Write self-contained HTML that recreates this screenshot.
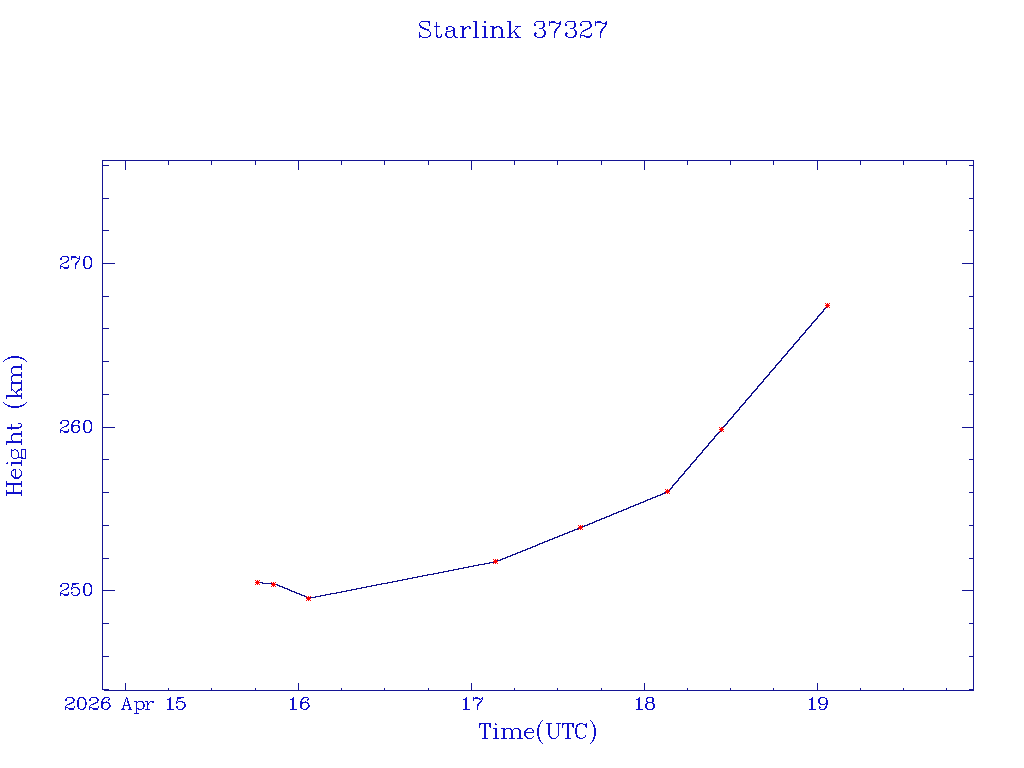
<!DOCTYPE html>
<html><head><meta charset="utf-8"><style>
html,body{margin:0;padding:0;background:#fff;width:1024px;height:768px;overflow:hidden}
svg{display:block}
</style></head><body>
<svg width="1024" height="768" viewBox="0 0 1024 768">
<rect width="1024" height="768" fill="#fff"/>
<path d="M102.5 689.5 V160.5 H973.5 V690.5 H103.5 M125.5 160.5 V169.5 M125.5 690.5 V682.5 M168.5 160.5 V164.5 M168.5 690.5 V687.5 M211.5 160.5 V164.5 M211.5 690.5 V687.5 M255.5 160.5 V164.5 M255.5 690.5 V687.5 M298.5 160.5 V169.5 M298.5 690.5 V682.5 M341.5 160.5 V164.5 M341.5 690.5 V687.5 M384.5 160.5 V164.5 M384.5 690.5 V687.5 M428.5 160.5 V164.5 M428.5 690.5 V687.5 M471.5 160.5 V169.5 M471.5 690.5 V682.5 M514.5 160.5 V164.5 M514.5 690.5 V687.5 M557.5 160.5 V164.5 M557.5 690.5 V687.5 M601.5 160.5 V164.5 M601.5 690.5 V687.5 M644.5 160.5 V169.5 M644.5 690.5 V682.5 M687.5 160.5 V164.5 M687.5 690.5 V687.5 M730.5 160.5 V164.5 M730.5 690.5 V687.5 M773.5 160.5 V164.5 M773.5 690.5 V687.5 M817.5 160.5 V169.5 M817.5 690.5 V682.5 M860.5 160.5 V164.5 M860.5 690.5 V687.5 M903.5 160.5 V164.5 M903.5 690.5 V687.5 M946.5 160.5 V164.5 M946.5 690.5 V687.5 M102.5 689.5 H108.5 M973.5 689.5 H968.5 M102.5 656.5 H108.5 M973.5 656.5 H968.5 M102.5 623.5 H108.5 M973.5 623.5 H968.5 M102.5 590.5 H114.5 M973.5 590.5 H961.5 M102.5 558.5 H108.5 M973.5 558.5 H968.5 M102.5 525.5 H108.5 M973.5 525.5 H968.5 M102.5 492.5 H108.5 M973.5 492.5 H968.5 M102.5 459.5 H108.5 M973.5 459.5 H968.5 M102.5 427.5 H114.5 M973.5 427.5 H961.5 M102.5 394.5 H108.5 M973.5 394.5 H968.5 M102.5 361.5 H108.5 M973.5 361.5 H968.5 M102.5 328.5 H108.5 M973.5 328.5 H968.5 M102.5 296.5 H108.5 M973.5 296.5 H968.5 M102.5 263.5 H114.5 M973.5 263.5 H961.5 M102.5 230.5 H108.5 M973.5 230.5 H968.5 M102.5 198.5 H108.5 M973.5 198.5 H968.5 M102.5 165.5 H108.5 M973.5 165.5 H968.5" stroke="#141494" stroke-width="1" fill="none" shape-rendering="crispEdges"/>
<path d="M429.51 25.95 L429.51 21.33 M429.51 22.87 L427.97 21.71 L425.66 21.33 L422.58 21.33 L420.65 22.10 L419.50 23.64 L419.50 25.18 L420.27 26.72 L421.81 27.88 L426.43 29.80 L428.74 30.95 L430.28 32.49 L430.28 35.19 L429.12 36.73 L426.43 37.50 L423.35 37.50 L421.04 36.73 L419.50 35.19 M420.27 25.95 L421.81 27.11 L426.43 29.03 L428.74 30.18 M419.50 32.88 L419.50 37.50 M436.04 22.48 L436.04 34.42 L436.81 36.73 L438.35 37.50 L439.89 37.50 L441.04 36.34 L441.43 34.42 M436.81 22.48 L436.81 34.42 L437.58 36.73 L438.35 37.50 M434.50 26.72 L439.50 26.72 M447.04 28.26 L447.04 29.03 L446.27 29.03 L446.27 28.26 L447.04 27.49 L448.58 26.72 L451.66 26.72 L453.20 27.49 L453.97 28.26 L454.74 29.80 L454.74 35.19 L455.51 36.73 L456.28 37.50 M453.97 28.26 L453.97 35.19 L454.74 36.73 L456.28 37.50 L457.05 37.50 M453.97 29.80 L453.20 30.57 L448.58 31.34 L446.27 32.11 L445.50 33.65 L445.50 35.19 L446.27 36.73 L448.58 37.50 L450.89 37.50 L452.43 36.73 L453.97 35.19 M448.58 31.34 L447.04 32.11 L446.27 33.65 L446.27 35.19 L447.04 36.73 L448.58 37.50 M462.81 26.72 L462.81 37.50 M463.58 26.72 L463.58 37.50 M463.58 31.34 L464.35 29.03 L465.89 27.49 L467.43 26.72 L469.74 26.72 L470.51 27.49 L470.51 28.26 L469.74 29.03 L468.97 28.26 L469.74 27.49 M460.50 26.72 L463.58 26.72 M460.50 37.50 L465.89 37.50 M475.81 21.33 L475.81 37.50 M476.58 21.33 L476.58 37.50 M473.50 21.33 L476.58 21.33 M473.50 37.50 L478.89 37.50 M484.81 21.33 L484.04 22.10 L484.81 22.87 L485.58 22.10 L484.81 21.33 M484.81 26.72 L484.81 37.50 M485.58 26.72 L485.58 37.50 M482.50 26.72 L485.58 26.72 M482.50 37.50 L487.89 37.50 M492.81 26.72 L492.81 37.50 M493.58 26.72 L493.58 37.50 M493.58 29.03 L495.12 27.49 L497.43 26.72 L498.97 26.72 L501.28 27.49 L502.05 29.03 L502.05 37.50 M498.97 26.72 L500.51 27.49 L501.28 29.03 L501.28 37.50 M490.50 26.72 L493.58 26.72 M490.50 37.50 L495.89 37.50 M498.97 37.50 L504.36 37.50 M509.81 21.33 L509.81 37.50 M510.58 21.33 L510.58 37.50 M518.28 26.72 L510.58 34.42 M514.43 31.34 L519.05 37.50 M513.66 31.34 L518.28 37.50 M507.50 21.33 L510.58 21.33 M515.97 26.72 L520.59 26.72 M507.50 37.50 L512.89 37.50 M515.97 37.50 L520.59 37.50 M535.27 24.41 L536.04 25.18 L535.27 25.95 L534.50 25.18 L534.50 24.41 L535.27 22.87 L536.04 22.10 L538.35 21.33 L541.43 21.33 L543.74 22.10 L544.51 23.64 L544.51 25.95 L543.74 27.49 L541.43 28.26 L539.12 28.26 M541.43 21.33 L542.97 22.10 L543.74 23.64 L543.74 25.95 L542.97 27.49 L541.43 28.26 M541.43 28.26 L542.97 29.03 L544.51 30.57 L545.28 32.11 L545.28 34.42 L544.51 35.96 L543.74 36.73 L541.43 37.50 L538.35 37.50 L536.04 36.73 L535.27 35.96 L534.50 34.42 L534.50 33.65 L535.27 32.88 L536.04 33.65 L535.27 34.42 M543.74 29.80 L544.51 32.11 L544.51 34.42 L543.74 35.96 L542.97 36.73 L541.43 37.50 M549.50 21.33 L549.50 25.95 M549.50 24.41 L550.27 22.87 L551.81 21.33 L553.35 21.33 L557.20 23.64 L558.74 23.64 L559.51 22.87 L560.28 21.33 M550.27 22.87 L551.81 22.10 L553.35 22.10 L557.20 23.64 M560.28 21.33 L560.28 23.64 L559.51 25.95 L556.43 29.80 L555.66 31.34 L554.89 33.65 L554.89 37.50 M559.51 25.95 L555.66 29.80 L554.89 31.34 L554.12 33.65 L554.12 37.50 M566.27 24.41 L567.04 25.18 L566.27 25.95 L565.50 25.18 L565.50 24.41 L566.27 22.87 L567.04 22.10 L569.35 21.33 L572.43 21.33 L574.74 22.10 L575.51 23.64 L575.51 25.95 L574.74 27.49 L572.43 28.26 L570.12 28.26 M572.43 21.33 L573.97 22.10 L574.74 23.64 L574.74 25.95 L573.97 27.49 L572.43 28.26 M572.43 28.26 L573.97 29.03 L575.51 30.57 L576.28 32.11 L576.28 34.42 L575.51 35.96 L574.74 36.73 L572.43 37.50 L569.35 37.50 L567.04 36.73 L566.27 35.96 L565.50 34.42 L565.50 33.65 L566.27 32.88 L567.04 33.65 L566.27 34.42 M574.74 29.80 L575.51 32.11 L575.51 34.42 L574.74 35.96 L573.97 36.73 L572.43 37.50 M581.27 24.41 L582.04 25.18 L581.27 25.95 L580.50 25.18 L580.50 24.41 L581.27 22.87 L582.04 22.10 L584.35 21.33 L587.43 21.33 L589.74 22.10 L590.51 22.87 L591.28 24.41 L591.28 25.95 L590.51 27.49 L588.20 29.03 L584.35 30.57 L582.81 31.34 L581.27 32.88 L580.50 35.19 L580.50 37.50 M587.43 21.33 L588.97 22.10 L589.74 22.87 L590.51 24.41 L590.51 25.95 L589.74 27.49 L587.43 29.03 L584.35 30.57 M580.50 35.96 L581.27 35.19 L582.81 35.19 L586.66 36.73 L588.97 36.73 L590.51 35.96 L591.28 35.19 M582.81 35.19 L586.66 37.50 L589.74 37.50 L590.51 36.73 L591.28 35.19 L591.28 33.65 M595.50 21.33 L595.50 25.95 M595.50 24.41 L596.27 22.87 L597.81 21.33 L599.35 21.33 L603.20 23.64 L604.74 23.64 L605.51 22.87 L606.28 21.33 M596.27 22.87 L597.81 22.10 L599.35 22.10 L603.20 23.64 M606.28 21.33 L606.28 23.64 L605.51 25.95 L602.43 29.80 L601.66 31.34 L600.89 33.65 L600.89 37.50 M605.51 25.95 L601.66 29.80 L600.89 31.34 L600.12 33.65 L600.12 37.50 M484.50 723.51 L484.50 738.50 M485.21 723.51 L485.21 738.50 M480.21 723.51 L479.50 727.79 M479.50 723.51 L479.50 727.79 M479.50 723.51 L490.21 723.51 M490.21 723.51 L490.21 727.79 M489.50 723.51 L490.21 727.79 M482.36 738.50 L487.35 738.50 M495.64 723.51 L494.93 724.22 L495.64 724.93 L496.36 724.22 L495.64 723.51 M495.64 728.50 L495.64 738.50 M496.36 728.50 L496.36 738.50 M493.50 728.50 L496.36 728.50 M493.50 738.50 L498.50 738.50 M503.64 728.50 L503.64 738.50 M504.36 728.50 L504.36 738.50 M504.36 730.65 L505.78 729.22 L507.93 728.50 L509.35 728.50 L511.50 729.22 L512.21 730.65 L512.21 738.50 M509.35 728.50 L510.78 729.22 L511.50 730.65 L511.50 738.50 M512.21 730.65 L513.64 729.22 L515.78 728.50 L517.21 728.50 L519.35 729.22 L520.06 730.65 L520.06 738.50 M517.21 728.50 L518.64 729.22 L519.35 730.65 L519.35 738.50 M501.50 728.50 L504.36 728.50 M501.50 738.50 L506.50 738.50 M509.35 738.50 L514.35 738.50 M517.21 738.50 L522.21 738.50 M525.21 732.79 L533.78 732.79 L533.78 731.36 L533.07 729.93 L532.35 729.22 L530.93 728.50 L528.78 728.50 L526.64 729.22 L525.21 730.65 L524.50 732.79 L524.50 734.22 L525.21 736.36 L526.64 737.79 L528.78 738.50 L530.21 738.50 L532.35 737.79 L533.78 736.36 M533.07 732.79 L533.07 730.65 L532.35 729.22 M528.78 728.50 L527.36 729.22 L525.93 730.65 L525.21 732.79 L525.21 734.22 L525.93 736.36 L527.36 737.79 L528.78 738.50 M542.50 720.65 L541.07 722.08 L539.64 724.22 L538.21 727.08 L537.50 730.65 L537.50 733.50 L538.21 737.07 L539.64 739.93 L541.07 742.07 L542.50 743.50 M541.07 722.08 L539.64 724.93 L538.93 727.08 L538.21 730.65 L538.21 733.50 L538.93 737.07 L539.64 739.21 L541.07 742.07 M548.64 723.51 L548.64 734.22 L549.36 736.36 L550.78 737.79 L552.93 738.50 L554.35 738.50 L556.50 737.79 L557.92 736.36 L558.64 734.22 L558.64 723.51 M549.36 723.51 L549.36 734.22 L550.07 736.36 L551.50 737.79 L552.93 738.50 M546.50 723.51 L551.50 723.51 M556.50 723.51 L560.78 723.51 M567.50 723.51 L567.50 738.50 M568.21 723.51 L568.21 738.50 M563.21 723.51 L562.50 727.79 M562.50 723.51 L562.50 727.79 M562.50 723.51 L573.21 723.51 M573.21 723.51 L573.21 727.79 M572.50 723.51 L573.21 727.79 M565.36 738.50 L570.35 738.50 M585.50 725.65 L586.21 727.79 L586.21 723.51 L585.50 725.65 L584.07 724.22 L581.93 723.51 L580.50 723.51 L578.36 724.22 L576.93 725.65 L576.21 727.08 L575.50 729.22 L575.50 732.79 L576.21 734.93 L576.93 736.36 L578.36 737.79 L580.50 738.50 L581.93 738.50 L584.07 737.79 L585.50 736.36 L586.21 734.93 M580.50 723.51 L579.07 724.22 L577.64 725.65 L576.93 727.08 L576.21 729.22 L576.21 732.79 L576.93 734.93 L577.64 736.36 L579.07 737.79 L580.50 738.50 M590.50 720.65 L591.93 722.08 L593.36 724.22 L594.78 727.08 L595.50 730.65 L595.50 733.50 L594.78 737.07 L593.36 739.93 L591.93 742.07 L590.50 743.50 M591.93 722.08 L593.36 724.93 L594.07 727.08 L594.78 730.65 L594.78 733.50 L594.07 737.07 L593.36 739.21 L591.93 742.07 M6.51 493.36 L21.50 493.36 M6.51 492.64 L21.50 492.64 M6.51 484.08 L21.50 484.08 M6.51 483.36 L21.50 483.36 M6.51 495.50 L6.51 490.50 M6.51 486.22 L6.51 481.22 M13.65 492.64 L13.65 484.08 M21.50 495.50 L21.50 490.50 M21.50 486.22 L21.50 481.22 M15.79 477.79 L15.79 469.22 L14.36 469.22 L12.93 469.93 L12.22 470.65 L11.50 472.07 L11.50 474.22 L12.22 476.36 L13.65 477.79 L15.79 478.50 L17.22 478.50 L19.36 477.79 L20.79 476.36 L21.50 474.22 L21.50 472.79 L20.79 470.65 L19.36 469.22 M15.79 469.93 L13.65 469.93 L12.22 470.65 M11.50 474.22 L12.22 475.64 L13.65 477.07 L15.79 477.79 L17.22 477.79 L19.36 477.07 L20.79 475.64 L21.50 474.22 M6.51 463.36 L7.22 464.07 L7.93 463.36 L7.22 462.64 L6.51 463.36 M11.50 463.36 L21.50 463.36 M11.50 462.64 L21.50 462.64 M11.50 465.50 L11.50 462.64 M21.50 465.50 L21.50 460.50 M11.50 455.64 L11.86 457.07 L12.58 457.79 L14.36 458.50 L15.79 458.50 L17.22 457.79 L17.93 457.07 L18.29 455.64 L18.29 452.79 L17.93 451.36 L17.22 450.65 L15.79 449.93 L14.36 449.93 L12.58 450.65 L11.86 451.36 L11.50 452.79 L11.50 455.64 M12.22 450.65 L11.50 449.93 L11.50 449.22 M17.93 457.07 L21.50 457.43 M21.50 458.50 L21.50 449.22 L25.43 449.22 L25.43 458.50 L21.50 458.50 M21.50 457.79 L22.57 457.79 M6.51 442.36 L21.50 442.36 M6.51 441.64 L21.50 441.64 M13.65 441.64 L12.22 440.22 L11.50 438.07 L11.50 436.65 L12.22 434.50 L13.65 433.79 L21.50 433.79 M11.50 436.65 L12.22 435.22 L13.65 434.50 L21.50 434.50 M6.51 444.50 L6.51 441.64 M21.50 444.50 L21.50 439.50 M21.50 436.65 L21.50 431.65 M7.58 428.07 L18.64 428.07 L20.79 427.36 L21.50 425.93 L21.50 424.50 L20.43 423.43 L18.64 423.07 M7.58 427.36 L18.64 427.36 L20.79 426.64 L21.50 425.93 M11.50 429.50 L11.50 424.86 M3.65 402.50 L5.08 403.93 L7.22 405.36 L10.08 406.79 L13.65 407.50 L16.50 407.50 L20.07 406.79 L22.93 405.36 L25.07 403.93 L26.50 402.50 M5.08 403.93 L7.93 405.36 L10.08 406.07 L13.65 406.79 L16.50 406.79 L20.07 406.07 L22.21 405.36 L25.07 403.93 M6.51 396.36 L21.50 396.36 M6.51 395.64 L21.50 395.64 M11.50 388.50 L18.64 395.64 M15.79 392.07 L21.50 387.79 M15.79 392.79 L21.50 388.50 M6.51 398.50 L6.51 395.64 M11.50 390.65 L11.50 386.36 M21.50 398.50 L21.50 393.50 M21.50 390.65 L21.50 386.36 M11.50 383.36 L21.50 383.36 M11.50 382.64 L21.50 382.64 M13.65 382.64 L12.22 381.22 L11.50 379.07 L11.50 377.65 L12.22 375.50 L13.65 374.79 L21.50 374.79 M11.50 377.65 L12.22 376.22 L13.65 375.50 L21.50 375.50 M13.65 374.79 L12.22 373.36 L11.50 371.22 L11.50 369.79 L12.22 367.65 L13.65 366.94 L21.50 366.94 M11.50 369.79 L12.22 368.36 L13.65 367.65 L21.50 367.65 M11.50 385.50 L11.50 382.64 M21.50 385.50 L21.50 380.50 M21.50 377.65 L21.50 372.65 M21.50 369.79 L21.50 364.79 M3.65 361.50 L5.08 360.07 L7.22 358.64 L10.08 357.22 L13.65 356.50 L16.50 356.50 L20.07 357.22 L22.93 358.64 L25.07 360.07 L26.50 361.50 M5.08 360.07 L7.93 358.64 L10.08 357.93 L13.65 357.22 L16.50 357.22 L20.07 357.93 L22.21 358.64 L25.07 360.07 M61.10 258.73 L61.70 259.30 L61.10 259.88 L60.50 259.30 L60.50 258.73 L61.10 257.57 L61.70 257.00 L63.50 256.43 L65.90 256.43 L67.70 257.00 L68.30 257.57 L68.90 258.73 L68.90 259.88 L68.30 261.02 L66.50 262.18 L63.50 263.32 L62.30 263.90 L61.10 265.05 L60.50 266.77 L60.50 268.50 M65.90 256.43 L67.10 257.00 L67.70 257.57 L68.30 258.73 L68.30 259.88 L67.70 261.02 L65.90 262.18 L63.50 263.32 M60.50 267.35 L61.10 266.77 L62.30 266.77 L65.30 267.93 L67.10 267.93 L68.30 267.35 L68.90 266.77 M62.30 266.77 L65.30 268.50 L67.70 268.50 L68.30 267.93 L68.90 266.77 L68.90 265.62 M71.50 256.43 L71.50 259.88 M71.50 258.73 L72.10 257.57 L73.30 256.43 L74.50 256.43 L77.50 258.15 L78.70 258.15 L79.30 257.57 L79.90 256.43 M72.10 257.57 L73.30 257.00 L74.50 257.00 L77.50 258.15 M79.90 256.43 L79.90 258.15 L79.30 259.88 L76.90 262.75 L76.30 263.90 L75.70 265.62 L75.70 268.50 M79.30 259.88 L76.30 262.75 L75.70 263.90 L75.10 265.62 L75.10 268.50 M87.10 256.43 L85.30 257.00 L84.10 258.73 L83.50 261.60 L83.50 263.32 L84.10 266.20 L85.30 267.93 L87.10 268.50 L88.30 268.50 L90.10 267.93 L91.30 266.20 L91.90 263.32 L91.90 261.60 L91.30 258.73 L90.10 257.00 L88.30 256.43 L87.10 256.43 M87.10 256.43 L85.90 257.00 L85.30 257.57 L84.70 258.73 L84.10 261.60 L84.10 263.32 L84.70 266.20 L85.30 267.35 L85.90 267.93 L87.10 268.50 M88.30 268.50 L89.50 267.93 L90.10 267.35 L90.70 266.20 L91.30 263.32 L91.30 261.60 L90.70 258.73 L90.10 257.57 L89.50 257.00 L88.30 256.43 M61.10 422.73 L61.70 423.30 L61.10 423.88 L60.50 423.30 L60.50 422.73 L61.10 421.57 L61.70 421.00 L63.50 420.43 L65.90 420.43 L67.70 421.00 L68.30 421.57 L68.90 422.73 L68.90 423.88 L68.30 425.02 L66.50 426.18 L63.50 427.32 L62.30 427.90 L61.10 429.05 L60.50 430.77 L60.50 432.50 M65.90 420.43 L67.10 421.00 L67.70 421.57 L68.30 422.73 L68.30 423.88 L67.70 425.02 L65.90 426.18 L63.50 427.32 M60.50 431.35 L61.10 430.77 L62.30 430.77 L65.30 431.93 L67.10 431.93 L68.30 431.35 L68.90 430.77 M62.30 430.77 L65.30 432.50 L67.70 432.50 L68.30 431.93 L68.90 430.77 L68.90 429.62 M78.70 422.15 L78.10 422.73 L78.70 423.30 L79.30 422.73 L79.30 422.15 L78.70 421.00 L77.50 420.43 L75.70 420.43 L73.90 421.00 L72.70 422.15 L72.10 423.30 L71.50 425.60 L71.50 429.05 L72.10 430.77 L73.30 431.93 L75.10 432.50 L76.30 432.50 L78.10 431.93 L79.30 430.77 L79.90 429.05 L79.90 428.48 L79.30 426.75 L78.10 425.60 L76.30 425.02 L75.70 425.02 L73.90 425.60 L72.70 426.75 L72.10 428.48 M75.70 420.43 L74.50 421.00 L73.30 422.15 L72.70 423.30 L72.10 425.60 L72.10 429.05 L72.70 430.77 L73.90 431.93 L75.10 432.50 M76.30 432.50 L77.50 431.93 L78.70 430.77 L79.30 429.05 L79.30 428.48 L78.70 426.75 L77.50 425.60 L76.30 425.02 M87.10 420.43 L85.30 421.00 L84.10 422.73 L83.50 425.60 L83.50 427.32 L84.10 430.20 L85.30 431.93 L87.10 432.50 L88.30 432.50 L90.10 431.93 L91.30 430.20 L91.90 427.32 L91.90 425.60 L91.30 422.73 L90.10 421.00 L88.30 420.43 L87.10 420.43 M87.10 420.43 L85.90 421.00 L85.30 421.57 L84.70 422.73 L84.10 425.60 L84.10 427.32 L84.70 430.20 L85.30 431.35 L85.90 431.93 L87.10 432.50 M88.30 432.50 L89.50 431.93 L90.10 431.35 L90.70 430.20 L91.30 427.32 L91.30 425.60 L90.70 422.73 L90.10 421.57 L89.50 421.00 L88.30 420.43 M61.10 585.73 L61.70 586.30 L61.10 586.88 L60.50 586.30 L60.50 585.73 L61.10 584.58 L61.70 584.00 L63.50 583.42 L65.90 583.42 L67.70 584.00 L68.30 584.58 L68.90 585.73 L68.90 586.88 L68.30 588.02 L66.50 589.17 L63.50 590.33 L62.30 590.90 L61.10 592.05 L60.50 593.77 L60.50 595.50 M65.90 583.42 L67.10 584.00 L67.70 584.58 L68.30 585.73 L68.30 586.88 L67.70 588.02 L65.90 589.17 L63.50 590.33 M60.50 594.35 L61.10 593.77 L62.30 593.77 L65.30 594.92 L67.10 594.92 L68.30 594.35 L68.90 593.77 M62.30 593.77 L65.30 595.50 L67.70 595.50 L68.30 594.92 L68.90 593.77 L68.90 592.62 M72.70 583.42 L71.50 589.17 L72.70 588.02 L74.50 587.45 L76.30 587.45 L78.10 588.02 L79.30 589.17 L79.90 590.90 L79.90 592.05 L79.30 593.77 L78.10 594.92 L76.30 595.50 L74.50 595.50 L72.70 594.92 L72.10 594.35 L71.50 593.20 L71.50 592.62 L72.10 592.05 L72.70 592.62 L72.10 593.20 M76.30 587.45 L77.50 588.02 L78.70 589.17 L79.30 590.90 L79.30 592.05 L78.70 593.77 L77.50 594.92 L76.30 595.50 M72.70 583.42 L78.70 583.42 M72.70 584.00 L75.70 584.00 L78.70 583.42 M87.10 583.42 L85.30 584.00 L84.10 585.73 L83.50 588.60 L83.50 590.33 L84.10 593.20 L85.30 594.92 L87.10 595.50 L88.30 595.50 L90.10 594.92 L91.30 593.20 L91.90 590.33 L91.90 588.60 L91.30 585.73 L90.10 584.00 L88.30 583.42 L87.10 583.42 M87.10 583.42 L85.90 584.00 L85.30 584.58 L84.70 585.73 L84.10 588.60 L84.10 590.33 L84.70 593.20 L85.30 594.35 L85.90 594.92 L87.10 595.50 M88.30 595.50 L89.50 594.92 L90.10 594.35 L90.70 593.20 L91.30 590.33 L91.30 588.60 L90.70 585.73 L90.10 584.58 L89.50 584.00 L88.30 583.42 M66.12 699.73 L66.74 700.30 L66.12 700.88 L65.50 700.30 L65.50 699.73 L66.12 698.58 L66.74 698.00 L68.60 697.42 L71.08 697.42 L72.94 698.00 L73.56 698.58 L74.18 699.73 L74.18 700.88 L73.56 702.02 L71.70 703.17 L68.60 704.33 L67.36 704.90 L66.12 706.05 L65.50 707.77 L65.50 709.50 M71.08 697.42 L72.32 698.00 L72.94 698.58 L73.56 699.73 L73.56 700.88 L72.94 702.02 L71.08 703.17 L68.60 704.33 M65.50 708.35 L66.12 707.77 L67.36 707.77 L70.46 708.92 L72.32 708.92 L73.56 708.35 L74.18 707.77 M67.36 707.77 L70.46 709.50 L72.94 709.50 L73.56 708.92 L74.18 707.77 L74.18 706.62 M81.22 697.42 L79.36 698.00 L78.12 699.73 L77.50 702.60 L77.50 704.33 L78.12 707.20 L79.36 708.92 L81.22 709.50 L82.46 709.50 L84.32 708.92 L85.56 707.20 L86.18 704.33 L86.18 702.60 L85.56 699.73 L84.32 698.00 L82.46 697.42 L81.22 697.42 M81.22 697.42 L79.98 698.00 L79.36 698.58 L78.74 699.73 L78.12 702.60 L78.12 704.33 L78.74 707.20 L79.36 708.35 L79.98 708.92 L81.22 709.50 M82.46 709.50 L83.70 708.92 L84.32 708.35 L84.94 707.20 L85.56 704.33 L85.56 702.60 L84.94 699.73 L84.32 698.58 L83.70 698.00 L82.46 697.42 M90.12 699.73 L90.74 700.30 L90.12 700.88 L89.50 700.30 L89.50 699.73 L90.12 698.58 L90.74 698.00 L92.60 697.42 L95.08 697.42 L96.94 698.00 L97.56 698.58 L98.18 699.73 L98.18 700.88 L97.56 702.02 L95.70 703.17 L92.60 704.33 L91.36 704.90 L90.12 706.05 L89.50 707.77 L89.50 709.50 M95.08 697.42 L96.32 698.00 L96.94 698.58 L97.56 699.73 L97.56 700.88 L96.94 702.02 L95.08 703.17 L92.60 704.33 M89.50 708.35 L90.12 707.77 L91.36 707.77 L94.46 708.92 L96.32 708.92 L97.56 708.35 L98.18 707.77 M91.36 707.77 L94.46 709.50 L96.94 709.50 L97.56 708.92 L98.18 707.77 L98.18 706.62 M108.94 699.15 L108.32 699.73 L108.94 700.30 L109.56 699.73 L109.56 699.15 L108.94 698.00 L107.70 697.42 L105.84 697.42 L103.98 698.00 L102.74 699.15 L102.12 700.30 L101.50 702.60 L101.50 706.05 L102.12 707.77 L103.36 708.92 L105.22 709.50 L106.46 709.50 L108.32 708.92 L109.56 707.77 L110.18 706.05 L110.18 705.48 L109.56 703.75 L108.32 702.60 L106.46 702.02 L105.84 702.02 L103.98 702.60 L102.74 703.75 L102.12 705.48 M105.84 697.42 L104.60 698.00 L103.36 699.15 L102.74 700.30 L102.12 702.60 L102.12 706.05 L102.74 707.77 L103.98 708.92 L105.22 709.50 M106.46 709.50 L107.70 708.92 L108.94 707.77 L109.56 706.05 L109.56 705.48 L108.94 703.75 L107.70 702.60 L106.46 702.02 M126.46 697.42 L122.74 709.50 M126.46 697.42 L130.18 709.50 M127.08 698.58 L130.80 709.50 M124.29 705.48 L128.94 705.48 M121.50 709.50 L124.29 709.50 M128.32 709.50 L131.73 709.50 M136.36 701.45 L136.36 713.52 M136.98 701.45 L136.98 713.52 M136.98 703.17 L138.22 702.02 L139.46 701.45 L140.70 701.45 L142.56 702.02 L143.80 703.17 L144.42 704.90 L144.42 706.05 L143.80 707.77 L142.56 708.92 L140.70 709.50 L139.46 709.50 L138.22 708.92 L136.98 707.77 M140.70 701.45 L141.94 702.02 L143.18 703.17 L143.80 704.90 L143.80 706.05 L143.18 707.77 L141.94 708.92 L140.70 709.50 M134.50 701.45 L136.98 701.45 M134.50 713.52 L138.84 713.52 M147.36 701.45 L147.36 709.50 M147.98 701.45 L147.98 709.50 M147.98 704.90 L148.60 703.17 L149.84 702.02 L151.08 701.45 L152.94 701.45 L153.56 702.02 L153.56 702.60 L152.94 703.17 L152.32 702.60 L152.94 702.02 M145.50 701.45 L147.98 701.45 M145.50 709.50 L149.84 709.50 M167.50 699.73 L168.74 699.15 L170.60 697.42 L170.60 709.50 M169.98 698.00 L169.98 709.50 M167.50 709.50 L173.08 709.50 M177.74 697.42 L176.50 703.17 L177.74 702.02 L179.60 701.45 L181.46 701.45 L183.32 702.02 L184.56 703.17 L185.18 704.90 L185.18 706.05 L184.56 707.77 L183.32 708.92 L181.46 709.50 L179.60 709.50 L177.74 708.92 L177.12 708.35 L176.50 707.20 L176.50 706.62 L177.12 706.05 L177.74 706.62 L177.12 707.20 M181.46 701.45 L182.70 702.02 L183.94 703.17 L184.56 704.90 L184.56 706.05 L183.94 707.77 L182.70 708.92 L181.46 709.50 M177.74 697.42 L183.94 697.42 M177.74 698.00 L180.84 698.00 L183.94 697.42 M290.50 699.73 L291.74 699.15 L293.60 697.42 L293.60 709.50 M292.98 698.00 L292.98 709.50 M290.50 709.50 L296.08 709.50 M307.94 699.15 L307.32 699.73 L307.94 700.30 L308.56 699.73 L308.56 699.15 L307.94 698.00 L306.70 697.42 L304.84 697.42 L302.98 698.00 L301.74 699.15 L301.12 700.30 L300.50 702.60 L300.50 706.05 L301.12 707.77 L302.36 708.92 L304.22 709.50 L305.46 709.50 L307.32 708.92 L308.56 707.77 L309.18 706.05 L309.18 705.48 L308.56 703.75 L307.32 702.60 L305.46 702.02 L304.84 702.02 L302.98 702.60 L301.74 703.75 L301.12 705.48 M304.84 697.42 L303.60 698.00 L302.36 699.15 L301.74 700.30 L301.12 702.60 L301.12 706.05 L301.74 707.77 L302.98 708.92 L304.22 709.50 M305.46 709.50 L306.70 708.92 L307.94 707.77 L308.56 706.05 L308.56 705.48 L307.94 703.75 L306.70 702.60 L305.46 702.02 M463.50 699.73 L464.74 699.15 L466.60 697.42 L466.60 709.50 M465.98 698.00 L465.98 709.50 M463.50 709.50 L469.08 709.50 M473.50 697.42 L473.50 700.88 M473.50 699.73 L474.12 698.58 L475.36 697.42 L476.60 697.42 L479.70 699.15 L480.94 699.15 L481.56 698.58 L482.18 697.42 M474.12 698.58 L475.36 698.00 L476.60 698.00 L479.70 699.15 M482.18 697.42 L482.18 699.15 L481.56 700.88 L479.08 703.75 L478.46 704.90 L477.84 706.62 L477.84 709.50 M481.56 700.88 L478.46 703.75 L477.84 704.90 L477.22 706.62 L477.22 709.50 M636.50 699.73 L637.74 699.15 L639.60 697.42 L639.60 709.50 M638.98 698.00 L638.98 709.50 M636.50 709.50 L642.08 709.50 M648.60 697.42 L646.74 698.00 L646.12 699.15 L646.12 700.88 L646.74 702.02 L648.60 702.60 L651.08 702.60 L652.94 702.02 L653.56 700.88 L653.56 699.15 L652.94 698.00 L651.08 697.42 L648.60 697.42 M648.60 697.42 L647.36 698.00 L646.74 699.15 L646.74 700.88 L647.36 702.02 L648.60 702.60 M651.08 702.60 L652.32 702.02 L652.94 700.88 L652.94 699.15 L652.32 698.00 L651.08 697.42 M648.60 702.60 L646.74 703.17 L646.12 703.75 L645.50 704.90 L645.50 707.20 L646.12 708.35 L646.74 708.92 L648.60 709.50 L651.08 709.50 L652.94 708.92 L653.56 708.35 L654.18 707.20 L654.18 704.90 L653.56 703.75 L652.94 703.17 L651.08 702.60 M648.60 702.60 L647.36 703.17 L646.74 703.75 L646.12 704.90 L646.12 707.20 L646.74 708.35 L647.36 708.92 L648.60 709.50 M651.08 709.50 L652.32 708.92 L652.94 708.35 L653.56 707.20 L653.56 704.90 L652.94 703.75 L652.32 703.17 L651.08 702.60 M809.50 699.73 L810.74 699.15 L812.60 697.42 L812.60 709.50 M811.98 698.00 L811.98 709.50 M809.50 709.50 L815.08 709.50 M826.56 701.45 L825.94 703.17 L824.70 704.33 L822.84 704.90 L822.22 704.90 L820.36 704.33 L819.12 703.17 L818.50 701.45 L818.50 700.88 L819.12 699.15 L820.36 698.00 L822.22 697.42 L823.46 697.42 L825.32 698.00 L826.56 699.15 L827.18 700.88 L827.18 704.33 L826.56 706.62 L825.94 707.77 L824.70 708.92 L822.84 709.50 L820.98 709.50 L819.74 708.92 L819.12 707.77 L819.12 707.20 L819.74 706.62 L820.36 707.20 L819.74 707.77 M822.22 704.90 L820.98 704.33 L819.74 703.17 L819.12 701.45 L819.12 700.88 L819.74 699.15 L820.98 698.00 L822.22 697.42 M823.46 697.42 L824.70 698.00 L825.94 699.15 L826.56 700.88 L826.56 704.33 L825.94 706.62 L825.32 707.77 L824.08 708.92 L822.84 709.50" stroke="#1010cc" stroke-width="1" fill="none" shape-rendering="crispEdges" stroke-linecap="square"/>
<path d="M257 582h1v1h-1z M258 582h1v1h-1z M259 582h1v1h-1z M260 582h1v1h-1z M261 582h1v1h-1z M262 582h1v1h-1z M262 583h1v1h-1z M263 583h1v1h-1z M264 583h1v1h-1z M265 583h1v1h-1z M266 583h1v1h-1z M267 583h1v1h-1z M268 583h1v1h-1z M269 583h1v1h-1z M270 583h1v1h-1z M271 583h1v1h-1z M272 583h1v1h-1z M273 583h1v1h-1z M274 583h1v1h-1z M274 584h1v1h-1z M275 584h1v1h-1z M276 584h1v1h-1z M277 584h1v1h-1z M277 585h1v1h-1z M278 585h1v1h-1z M279 585h1v1h-1z M279 586h1v1h-1z M280 586h1v1h-1z M281 586h1v1h-1z M282 586h1v1h-1z M282 587h1v1h-1z M283 587h1v1h-1z M284 587h1v1h-1z M284 588h1v1h-1z M285 588h1v1h-1z M286 588h1v1h-1z M287 588h1v1h-1z M287 589h1v1h-1z M288 589h1v1h-1z M289 589h1v1h-1z M289 590h1v1h-1z M290 590h1v1h-1z M291 590h1v1h-1z M291 591h1v1h-1z M292 591h1v1h-1z M293 591h1v1h-1z M294 591h1v1h-1z M294 592h1v1h-1z M295 592h1v1h-1z M296 592h1v1h-1z M296 593h1v1h-1z M297 593h1v1h-1z M298 593h1v1h-1z M299 593h1v1h-1z M299 594h1v1h-1z M300 594h1v1h-1z M301 594h1v1h-1z M301 595h1v1h-1z M302 595h1v1h-1z M303 595h1v1h-1z M304 595h1v1h-1z M304 596h1v1h-1z M305 596h1v1h-1z M306 596h1v1h-1z M306 597h1v1h-1z M307 597h1v1h-1z M308 597h1v1h-1z M308 598h1v1h-1z M309 598h1v1h-1z M310 597h1v1h-1z M310 598h1v1h-1z M311 597h1v1h-1z M312 597h1v1h-1z M313 597h1v1h-1z M314 597h1v1h-1z M315 596h1v1h-1z M315 597h1v1h-1z M316 596h1v1h-1z M317 596h1v1h-1z M318 596h1v1h-1z M319 596h1v1h-1z M320 595h1v1h-1z M320 596h1v1h-1z M321 595h1v1h-1z M322 595h1v1h-1z M323 595h1v1h-1z M324 595h1v1h-1z M325 594h1v1h-1z M325 595h1v1h-1z M326 594h1v1h-1z M327 594h1v1h-1z M328 594h1v1h-1z M329 594h1v1h-1z M330 593h1v1h-1z M330 594h1v1h-1z M331 593h1v1h-1z M332 593h1v1h-1z M333 593h1v1h-1z M334 593h1v1h-1z M335 593h1v1h-1z M336 592h1v1h-1z M336 593h1v1h-1z M337 592h1v1h-1z M338 592h1v1h-1z M339 592h1v1h-1z M340 592h1v1h-1z M341 591h1v1h-1z M341 592h1v1h-1z M342 591h1v1h-1z M343 591h1v1h-1z M344 591h1v1h-1z M345 591h1v1h-1z M346 590h1v1h-1z M346 591h1v1h-1z M347 590h1v1h-1z M348 590h1v1h-1z M349 590h1v1h-1z M350 590h1v1h-1z M351 589h1v1h-1z M351 590h1v1h-1z M352 589h1v1h-1z M353 589h1v1h-1z M354 589h1v1h-1z M355 589h1v1h-1z M356 588h1v1h-1z M356 589h1v1h-1z M357 588h1v1h-1z M358 588h1v1h-1z M359 588h1v1h-1z M360 588h1v1h-1z M361 587h1v1h-1z M361 588h1v1h-1z M362 587h1v1h-1z M363 587h1v1h-1z M364 587h1v1h-1z M365 587h1v1h-1z M366 586h1v1h-1z M366 587h1v1h-1z M367 586h1v1h-1z M368 586h1v1h-1z M369 586h1v1h-1z M370 586h1v1h-1z M371 585h1v1h-1z M371 586h1v1h-1z M372 585h1v1h-1z M373 585h1v1h-1z M374 585h1v1h-1z M375 585h1v1h-1z M376 584h1v1h-1z M376 585h1v1h-1z M377 584h1v1h-1z M378 584h1v1h-1z M379 584h1v1h-1z M380 584h1v1h-1z M381 583h1v1h-1z M381 584h1v1h-1z M382 583h1v1h-1z M383 583h1v1h-1z M384 583h1v1h-1z M385 583h1v1h-1z M386 583h1v1h-1z M387 582h1v1h-1z M387 583h1v1h-1z M388 582h1v1h-1z M389 582h1v1h-1z M390 582h1v1h-1z M391 582h1v1h-1z M392 581h1v1h-1z M392 582h1v1h-1z M393 581h1v1h-1z M394 581h1v1h-1z M395 581h1v1h-1z M396 581h1v1h-1z M397 580h1v1h-1z M397 581h1v1h-1z M398 580h1v1h-1z M399 580h1v1h-1z M400 580h1v1h-1z M401 580h1v1h-1z M402 579h1v1h-1z M402 580h1v1h-1z M403 579h1v1h-1z M404 579h1v1h-1z M405 579h1v1h-1z M406 579h1v1h-1z M407 578h1v1h-1z M407 579h1v1h-1z M408 578h1v1h-1z M409 578h1v1h-1z M410 578h1v1h-1z M411 578h1v1h-1z M412 577h1v1h-1z M412 578h1v1h-1z M413 577h1v1h-1z M414 577h1v1h-1z M415 577h1v1h-1z M416 577h1v1h-1z M417 576h1v1h-1z M417 577h1v1h-1z M418 576h1v1h-1z M419 576h1v1h-1z M420 576h1v1h-1z M421 576h1v1h-1z M422 575h1v1h-1z M422 576h1v1h-1z M423 575h1v1h-1z M424 575h1v1h-1z M425 575h1v1h-1z M426 575h1v1h-1z M427 574h1v1h-1z M427 575h1v1h-1z M428 574h1v1h-1z M429 574h1v1h-1z M430 574h1v1h-1z M431 574h1v1h-1z M432 574h1v1h-1z M433 573h1v1h-1z M433 574h1v1h-1z M434 573h1v1h-1z M435 573h1v1h-1z M436 573h1v1h-1z M437 573h1v1h-1z M438 572h1v1h-1z M438 573h1v1h-1z M439 572h1v1h-1z M440 572h1v1h-1z M441 572h1v1h-1z M442 572h1v1h-1z M443 571h1v1h-1z M443 572h1v1h-1z M444 571h1v1h-1z M445 571h1v1h-1z M446 571h1v1h-1z M447 571h1v1h-1z M448 570h1v1h-1z M448 571h1v1h-1z M449 570h1v1h-1z M450 570h1v1h-1z M451 570h1v1h-1z M452 570h1v1h-1z M453 569h1v1h-1z M453 570h1v1h-1z M454 569h1v1h-1z M455 569h1v1h-1z M456 569h1v1h-1z M457 569h1v1h-1z M458 568h1v1h-1z M458 569h1v1h-1z M459 568h1v1h-1z M460 568h1v1h-1z M461 568h1v1h-1z M462 568h1v1h-1z M463 567h1v1h-1z M463 568h1v1h-1z M464 567h1v1h-1z M465 567h1v1h-1z M466 567h1v1h-1z M467 567h1v1h-1z M468 566h1v1h-1z M468 567h1v1h-1z M469 566h1v1h-1z M470 566h1v1h-1z M471 566h1v1h-1z M472 566h1v1h-1z M473 565h1v1h-1z M473 566h1v1h-1z M474 565h1v1h-1z M475 565h1v1h-1z M476 565h1v1h-1z M477 565h1v1h-1z M478 564h1v1h-1z M478 565h1v1h-1z M479 564h1v1h-1z M480 564h1v1h-1z M481 564h1v1h-1z M482 564h1v1h-1z M483 564h1v1h-1z M484 563h1v1h-1z M484 564h1v1h-1z M485 563h1v1h-1z M486 563h1v1h-1z M487 563h1v1h-1z M488 563h1v1h-1z M489 562h1v1h-1z M489 563h1v1h-1z M490 562h1v1h-1z M491 562h1v1h-1z M492 562h1v1h-1z M493 562h1v1h-1z M494 561h1v1h-1z M494 562h1v1h-1z M495 561h1v1h-1z M496 561h1v1h-1z M497 560h1v1h-1z M497 561h1v1h-1z M498 560h1v1h-1z M499 560h1v1h-1z M500 559h1v1h-1z M500 560h1v1h-1z M501 559h1v1h-1z M502 558h1v1h-1z M502 559h1v1h-1z M503 558h1v1h-1z M504 558h1v1h-1z M505 557h1v1h-1z M505 558h1v1h-1z M506 557h1v1h-1z M507 556h1v1h-1z M507 557h1v1h-1z M508 556h1v1h-1z M509 556h1v1h-1z M510 555h1v1h-1z M510 556h1v1h-1z M511 555h1v1h-1z M512 554h1v1h-1z M512 555h1v1h-1z M513 554h1v1h-1z M514 554h1v1h-1z M515 553h1v1h-1z M515 554h1v1h-1z M516 553h1v1h-1z M517 552h1v1h-1z M517 553h1v1h-1z M518 552h1v1h-1z M519 552h1v1h-1z M520 551h1v1h-1z M520 552h1v1h-1z M521 551h1v1h-1z M522 550h1v1h-1z M522 551h1v1h-1z M523 550h1v1h-1z M524 550h1v1h-1z M525 549h1v1h-1z M525 550h1v1h-1z M526 549h1v1h-1z M527 548h1v1h-1z M527 549h1v1h-1z M528 548h1v1h-1z M529 548h1v1h-1z M530 547h1v1h-1z M530 548h1v1h-1z M531 547h1v1h-1z M532 546h1v1h-1z M532 547h1v1h-1z M533 546h1v1h-1z M534 546h1v1h-1z M535 545h1v1h-1z M535 546h1v1h-1z M536 545h1v1h-1z M537 544h1v1h-1z M537 545h1v1h-1z M538 544h1v1h-1z M539 543h1v1h-1z M539 544h1v1h-1z M540 543h1v1h-1z M541 543h1v1h-1z M542 542h1v1h-1z M542 543h1v1h-1z M543 542h1v1h-1z M544 541h1v1h-1z M544 542h1v1h-1z M545 541h1v1h-1z M546 541h1v1h-1z M547 540h1v1h-1z M547 541h1v1h-1z M548 540h1v1h-1z M549 539h1v1h-1z M549 540h1v1h-1z M550 539h1v1h-1z M551 539h1v1h-1z M552 538h1v1h-1z M552 539h1v1h-1z M553 538h1v1h-1z M554 537h1v1h-1z M554 538h1v1h-1z M555 537h1v1h-1z M556 537h1v1h-1z M557 536h1v1h-1z M557 537h1v1h-1z M558 536h1v1h-1z M559 535h1v1h-1z M559 536h1v1h-1z M560 535h1v1h-1z M561 535h1v1h-1z M562 534h1v1h-1z M562 535h1v1h-1z M563 534h1v1h-1z M564 533h1v1h-1z M564 534h1v1h-1z M565 533h1v1h-1z M566 533h1v1h-1z M567 532h1v1h-1z M567 533h1v1h-1z M568 532h1v1h-1z M569 531h1v1h-1z M569 532h1v1h-1z M570 531h1v1h-1z M571 531h1v1h-1z M572 530h1v1h-1z M572 531h1v1h-1z M573 530h1v1h-1z M574 529h1v1h-1z M574 530h1v1h-1z M575 529h1v1h-1z M576 529h1v1h-1z M577 528h1v1h-1z M577 529h1v1h-1z M578 528h1v1h-1z M579 527h1v1h-1z M579 528h1v1h-1z M580 527h1v1h-1z M581 527h1v1h-1z M582 526h1v1h-1z M582 527h1v1h-1z M583 526h1v1h-1z M584 525h1v1h-1z M584 526h1v1h-1z M585 525h1v1h-1z M586 525h1v1h-1z M587 524h1v1h-1z M587 525h1v1h-1z M588 524h1v1h-1z M589 523h1v1h-1z M589 524h1v1h-1z M590 523h1v1h-1z M591 523h1v1h-1z M592 522h1v1h-1z M592 523h1v1h-1z M593 522h1v1h-1z M594 521h1v1h-1z M594 522h1v1h-1z M595 521h1v1h-1z M596 520h1v1h-1z M596 521h1v1h-1z M597 520h1v1h-1z M598 520h1v1h-1z M599 519h1v1h-1z M599 520h1v1h-1z M600 519h1v1h-1z M601 518h1v1h-1z M601 519h1v1h-1z M602 518h1v1h-1z M603 518h1v1h-1z M604 517h1v1h-1z M604 518h1v1h-1z M605 517h1v1h-1z M606 516h1v1h-1z M606 517h1v1h-1z M607 516h1v1h-1z M608 516h1v1h-1z M609 515h1v1h-1z M609 516h1v1h-1z M610 515h1v1h-1z M611 514h1v1h-1z M611 515h1v1h-1z M612 514h1v1h-1z M613 513h1v1h-1z M613 514h1v1h-1z M614 513h1v1h-1z M615 513h1v1h-1z M616 512h1v1h-1z M616 513h1v1h-1z M617 512h1v1h-1z M618 511h1v1h-1z M618 512h1v1h-1z M619 511h1v1h-1z M620 511h1v1h-1z M621 510h1v1h-1z M621 511h1v1h-1z M622 510h1v1h-1z M623 509h1v1h-1z M623 510h1v1h-1z M624 509h1v1h-1z M625 509h1v1h-1z M626 508h1v1h-1z M626 509h1v1h-1z M627 508h1v1h-1z M628 507h1v1h-1z M628 508h1v1h-1z M629 507h1v1h-1z M630 506h1v1h-1z M630 507h1v1h-1z M631 506h1v1h-1z M632 506h1v1h-1z M633 505h1v1h-1z M633 506h1v1h-1z M634 505h1v1h-1z M635 504h1v1h-1z M635 505h1v1h-1z M636 504h1v1h-1z M637 504h1v1h-1z M638 503h1v1h-1z M638 504h1v1h-1z M639 503h1v1h-1z M640 502h1v1h-1z M640 503h1v1h-1z M641 502h1v1h-1z M642 502h1v1h-1z M643 501h1v1h-1z M643 502h1v1h-1z M644 501h1v1h-1z M645 500h1v1h-1z M645 501h1v1h-1z M646 500h1v1h-1z M647 499h1v1h-1z M647 500h1v1h-1z M648 499h1v1h-1z M649 499h1v1h-1z M650 498h1v1h-1z M650 499h1v1h-1z M651 498h1v1h-1z M652 497h1v1h-1z M652 498h1v1h-1z M653 497h1v1h-1z M654 497h1v1h-1z M655 496h1v1h-1z M655 497h1v1h-1z M656 496h1v1h-1z M657 495h1v1h-1z M657 496h1v1h-1z M658 495h1v1h-1z M659 495h1v1h-1z M660 494h1v1h-1z M660 495h1v1h-1z M661 494h1v1h-1z M662 493h1v1h-1z M662 494h1v1h-1z M663 493h1v1h-1z M664 492h1v1h-1z M664 493h1v1h-1z M665 492h1v1h-1z M666 492h1v1h-1z M667 491h1v1h-1z M667 492h1v1h-1z M668 490h1v1h-1z M668 491h1v1h-1z M669 489h1v1h-1z M669 490h1v1h-1z M670 488h1v1h-1z M670 489h1v1h-1z M671 487h1v1h-1z M671 488h1v1h-1z M672 485h1v1h-1z M672 486h1v1h-1z M672 487h1v1h-1z M673 484h1v1h-1z M673 485h1v1h-1z M674 483h1v1h-1z M674 484h1v1h-1z M675 482h1v1h-1z M675 483h1v1h-1z M676 481h1v1h-1z M676 482h1v1h-1z M677 480h1v1h-1z M677 481h1v1h-1z M678 478h1v1h-1z M678 479h1v1h-1z M678 480h1v1h-1z M679 477h1v1h-1z M679 478h1v1h-1z M680 476h1v1h-1z M680 477h1v1h-1z M681 475h1v1h-1z M681 476h1v1h-1z M682 474h1v1h-1z M682 475h1v1h-1z M683 473h1v1h-1z M683 474h1v1h-1z M684 471h1v1h-1z M684 472h1v1h-1z M684 473h1v1h-1z M685 470h1v1h-1z M685 471h1v1h-1z M686 469h1v1h-1z M686 470h1v1h-1z M687 468h1v1h-1z M687 469h1v1h-1z M688 467h1v1h-1z M688 468h1v1h-1z M689 466h1v1h-1z M689 467h1v1h-1z M690 464h1v1h-1z M690 465h1v1h-1z M690 466h1v1h-1z M691 463h1v1h-1z M691 464h1v1h-1z M692 462h1v1h-1z M692 463h1v1h-1z M693 461h1v1h-1z M693 462h1v1h-1z M694 460h1v1h-1z M694 461h1v1h-1z M695 459h1v1h-1z M695 460h1v1h-1z M696 457h1v1h-1z M696 458h1v1h-1z M696 459h1v1h-1z M697 456h1v1h-1z M697 457h1v1h-1z M698 455h1v1h-1z M698 456h1v1h-1z M699 454h1v1h-1z M699 455h1v1h-1z M700 453h1v1h-1z M700 454h1v1h-1z M701 452h1v1h-1z M701 453h1v1h-1z M702 450h1v1h-1z M702 451h1v1h-1z M702 452h1v1h-1z M703 449h1v1h-1z M703 450h1v1h-1z M704 448h1v1h-1z M704 449h1v1h-1z M705 447h1v1h-1z M705 448h1v1h-1z M706 446h1v1h-1z M706 447h1v1h-1z M707 445h1v1h-1z M707 446h1v1h-1z M708 443h1v1h-1z M708 444h1v1h-1z M708 445h1v1h-1z M709 442h1v1h-1z M709 443h1v1h-1z M710 441h1v1h-1z M710 442h1v1h-1z M711 440h1v1h-1z M711 441h1v1h-1z M712 439h1v1h-1z M712 440h1v1h-1z M713 438h1v1h-1z M713 439h1v1h-1z M714 436h1v1h-1z M714 437h1v1h-1z M714 438h1v1h-1z M715 435h1v1h-1z M715 436h1v1h-1z M716 434h1v1h-1z M716 435h1v1h-1z M717 433h1v1h-1z M717 434h1v1h-1z M718 432h1v1h-1z M718 433h1v1h-1z M719 431h1v1h-1z M719 432h1v1h-1z M720 429h1v1h-1z M720 430h1v1h-1z M720 431h1v1h-1z M721 428h1v1h-1z M721 429h1v1h-1z M722 427h1v1h-1z M722 428h1v1h-1z M723 426h1v1h-1z M723 427h1v1h-1z M724 425h1v1h-1z M724 426h1v1h-1z M725 424h1v1h-1z M725 425h1v1h-1z M726 423h1v1h-1z M726 424h1v1h-1z M727 421h1v1h-1z M727 422h1v1h-1z M727 423h1v1h-1z M728 420h1v1h-1z M728 421h1v1h-1z M729 419h1v1h-1z M729 420h1v1h-1z M730 418h1v1h-1z M730 419h1v1h-1z M731 417h1v1h-1z M731 418h1v1h-1z M732 416h1v1h-1z M732 417h1v1h-1z M733 414h1v1h-1z M733 415h1v1h-1z M733 416h1v1h-1z M734 413h1v1h-1z M734 414h1v1h-1z M735 412h1v1h-1z M735 413h1v1h-1z M736 411h1v1h-1z M736 412h1v1h-1z M737 410h1v1h-1z M737 411h1v1h-1z M738 409h1v1h-1z M738 410h1v1h-1z M739 407h1v1h-1z M739 408h1v1h-1z M739 409h1v1h-1z M740 406h1v1h-1z M740 407h1v1h-1z M741 405h1v1h-1z M741 406h1v1h-1z M742 404h1v1h-1z M742 405h1v1h-1z M743 403h1v1h-1z M743 404h1v1h-1z M744 402h1v1h-1z M744 403h1v1h-1z M745 400h1v1h-1z M745 401h1v1h-1z M745 402h1v1h-1z M746 399h1v1h-1z M746 400h1v1h-1z M747 398h1v1h-1z M747 399h1v1h-1z M748 397h1v1h-1z M748 398h1v1h-1z M749 396h1v1h-1z M749 397h1v1h-1z M750 395h1v1h-1z M750 396h1v1h-1z M751 393h1v1h-1z M751 394h1v1h-1z M751 395h1v1h-1z M752 392h1v1h-1z M752 393h1v1h-1z M753 391h1v1h-1z M753 392h1v1h-1z M754 390h1v1h-1z M754 391h1v1h-1z M755 389h1v1h-1z M755 390h1v1h-1z M756 388h1v1h-1z M756 389h1v1h-1z M757 386h1v1h-1z M757 387h1v1h-1z M757 388h1v1h-1z M758 385h1v1h-1z M758 386h1v1h-1z M759 384h1v1h-1z M759 385h1v1h-1z M760 383h1v1h-1z M760 384h1v1h-1z M761 382h1v1h-1z M761 383h1v1h-1z M762 381h1v1h-1z M762 382h1v1h-1z M763 379h1v1h-1z M763 380h1v1h-1z M763 381h1v1h-1z M764 378h1v1h-1z M764 379h1v1h-1z M765 377h1v1h-1z M765 378h1v1h-1z M766 376h1v1h-1z M766 377h1v1h-1z M767 375h1v1h-1z M767 376h1v1h-1z M768 374h1v1h-1z M768 375h1v1h-1z M769 372h1v1h-1z M769 373h1v1h-1z M769 374h1v1h-1z M770 371h1v1h-1z M770 372h1v1h-1z M771 370h1v1h-1z M771 371h1v1h-1z M772 369h1v1h-1z M772 370h1v1h-1z M773 368h1v1h-1z M773 369h1v1h-1z M774 367h1v1h-1z M774 368h1v1h-1z M775 365h1v1h-1z M775 366h1v1h-1z M775 367h1v1h-1z M776 364h1v1h-1z M776 365h1v1h-1z M777 363h1v1h-1z M777 364h1v1h-1z M778 362h1v1h-1z M778 363h1v1h-1z M779 361h1v1h-1z M779 362h1v1h-1z M780 360h1v1h-1z M780 361h1v1h-1z M781 358h1v1h-1z M781 359h1v1h-1z M781 360h1v1h-1z M782 357h1v1h-1z M782 358h1v1h-1z M783 356h1v1h-1z M783 357h1v1h-1z M784 355h1v1h-1z M784 356h1v1h-1z M785 354h1v1h-1z M785 355h1v1h-1z M786 353h1v1h-1z M786 354h1v1h-1z M787 351h1v1h-1z M787 352h1v1h-1z M787 353h1v1h-1z M788 350h1v1h-1z M788 351h1v1h-1z M789 349h1v1h-1z M789 350h1v1h-1z M790 348h1v1h-1z M790 349h1v1h-1z M791 347h1v1h-1z M791 348h1v1h-1z M792 346h1v1h-1z M792 347h1v1h-1z M793 344h1v1h-1z M793 345h1v1h-1z M793 346h1v1h-1z M794 343h1v1h-1z M794 344h1v1h-1z M795 342h1v1h-1z M795 343h1v1h-1z M796 341h1v1h-1z M796 342h1v1h-1z M797 340h1v1h-1z M797 341h1v1h-1z M798 339h1v1h-1z M798 340h1v1h-1z M799 337h1v1h-1z M799 338h1v1h-1z M799 339h1v1h-1z M800 336h1v1h-1z M800 337h1v1h-1z M801 335h1v1h-1z M801 336h1v1h-1z M802 334h1v1h-1z M802 335h1v1h-1z M803 333h1v1h-1z M803 334h1v1h-1z M804 332h1v1h-1z M804 333h1v1h-1z M805 330h1v1h-1z M805 331h1v1h-1z M805 332h1v1h-1z M806 329h1v1h-1z M806 330h1v1h-1z M807 328h1v1h-1z M807 329h1v1h-1z M808 327h1v1h-1z M808 328h1v1h-1z M809 326h1v1h-1z M809 327h1v1h-1z M810 325h1v1h-1z M810 326h1v1h-1z M811 323h1v1h-1z M811 324h1v1h-1z M811 325h1v1h-1z M812 322h1v1h-1z M812 323h1v1h-1z M813 321h1v1h-1z M813 322h1v1h-1z M814 320h1v1h-1z M814 321h1v1h-1z M815 319h1v1h-1z M815 320h1v1h-1z M816 318h1v1h-1z M816 319h1v1h-1z M817 316h1v1h-1z M817 317h1v1h-1z M817 318h1v1h-1z M818 315h1v1h-1z M818 316h1v1h-1z M819 314h1v1h-1z M819 315h1v1h-1z M820 313h1v1h-1z M820 314h1v1h-1z M821 312h1v1h-1z M821 313h1v1h-1z M822 311h1v1h-1z M822 312h1v1h-1z M823 309h1v1h-1z M823 310h1v1h-1z M823 311h1v1h-1z M824 308h1v1h-1z M824 309h1v1h-1z M825 307h1v1h-1z M825 308h1v1h-1z M826 306h1v1h-1z M826 307h1v1h-1z" fill="#10108c" shape-rendering="crispEdges"/>
<path d="M255 580h1v1h-1z M257 580h1v1h-1z M259 580h1v1h-1z M256 581h1v1h-1z M257 581h1v1h-1z M258 581h1v1h-1z M255 582h1v1h-1z M256 582h1v1h-1z M257 582h1v1h-1z M258 582h1v1h-1z M259 582h1v1h-1z M256 583h1v1h-1z M257 583h1v1h-1z M258 583h1v1h-1z M255 584h1v1h-1z M257 584h1v1h-1z M259 584h1v1h-1z M271 582h1v1h-1z M273 582h1v1h-1z M275 582h1v1h-1z M272 583h1v1h-1z M273 583h1v1h-1z M274 583h1v1h-1z M271 584h1v1h-1z M272 584h1v1h-1z M273 584h1v1h-1z M274 584h1v1h-1z M275 584h1v1h-1z M272 585h1v1h-1z M273 585h1v1h-1z M274 585h1v1h-1z M271 586h1v1h-1z M273 586h1v1h-1z M275 586h1v1h-1z M306 596h1v1h-1z M308 596h1v1h-1z M310 596h1v1h-1z M307 597h1v1h-1z M308 597h1v1h-1z M309 597h1v1h-1z M306 598h1v1h-1z M307 598h1v1h-1z M308 598h1v1h-1z M309 598h1v1h-1z M310 598h1v1h-1z M307 599h1v1h-1z M308 599h1v1h-1z M309 599h1v1h-1z M306 600h1v1h-1z M308 600h1v1h-1z M310 600h1v1h-1z M493 559h1v1h-1z M495 559h1v1h-1z M497 559h1v1h-1z M494 560h1v1h-1z M495 560h1v1h-1z M496 560h1v1h-1z M493 561h1v1h-1z M494 561h1v1h-1z M495 561h1v1h-1z M496 561h1v1h-1z M497 561h1v1h-1z M494 562h1v1h-1z M495 562h1v1h-1z M496 562h1v1h-1z M493 563h1v1h-1z M495 563h1v1h-1z M497 563h1v1h-1z M578 525h1v1h-1z M580 525h1v1h-1z M582 525h1v1h-1z M579 526h1v1h-1z M580 526h1v1h-1z M581 526h1v1h-1z M578 527h1v1h-1z M579 527h1v1h-1z M580 527h1v1h-1z M581 527h1v1h-1z M582 527h1v1h-1z M579 528h1v1h-1z M580 528h1v1h-1z M581 528h1v1h-1z M578 529h1v1h-1z M580 529h1v1h-1z M582 529h1v1h-1z M665 489h1v1h-1z M667 489h1v1h-1z M669 489h1v1h-1z M666 490h1v1h-1z M667 490h1v1h-1z M668 490h1v1h-1z M665 491h1v1h-1z M666 491h1v1h-1z M667 491h1v1h-1z M668 491h1v1h-1z M669 491h1v1h-1z M666 492h1v1h-1z M667 492h1v1h-1z M668 492h1v1h-1z M665 493h1v1h-1z M667 493h1v1h-1z M669 493h1v1h-1z M719 427h1v1h-1z M721 427h1v1h-1z M723 427h1v1h-1z M720 428h1v1h-1z M721 428h1v1h-1z M722 428h1v1h-1z M719 429h1v1h-1z M720 429h1v1h-1z M721 429h1v1h-1z M722 429h1v1h-1z M723 429h1v1h-1z M720 430h1v1h-1z M721 430h1v1h-1z M722 430h1v1h-1z M719 431h1v1h-1z M721 431h1v1h-1z M723 431h1v1h-1z M825 303h1v1h-1z M827 303h1v1h-1z M829 303h1v1h-1z M826 304h1v1h-1z M827 304h1v1h-1z M828 304h1v1h-1z M825 305h1v1h-1z M826 305h1v1h-1z M827 305h1v1h-1z M828 305h1v1h-1z M829 305h1v1h-1z M826 306h1v1h-1z M827 306h1v1h-1z M828 306h1v1h-1z M825 307h1v1h-1z M827 307h1v1h-1z M829 307h1v1h-1z" fill="#ff0000" shape-rendering="crispEdges"/>
</svg>
</body></html>
